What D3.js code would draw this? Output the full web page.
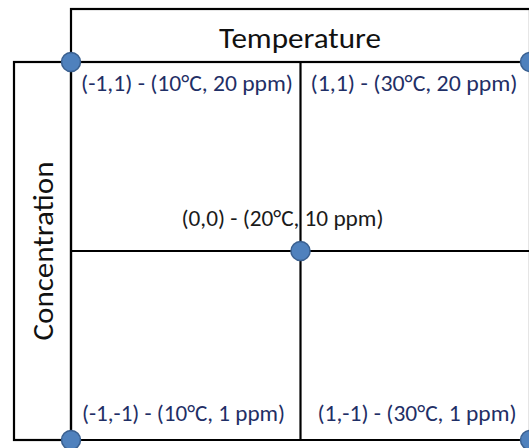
<!DOCTYPE html>
<html>
<head>
<meta charset="utf-8">
<script src="https://cdn.jsdelivr.net/npm/d3@7"></script>
<style>
  html, body { margin: 0; padding: 0; background: #fff; }
  svg { display: block; }
  text { font-family: Calibri, Carlito, Lato, "Open Sans", sans-serif; }
</style>
</head>
<body>
<script>
// ---- data ----
const codedX = [-1, 1, 0, -1, 1];          // temperature (coded)
const codedY = [1, 1, 0, -1, -1];          // concentration (coded)
const temps  = ["10°C", "30°C", "20°C", "10°C", "30°C"];
const concs  = ["20 ppm", "20 ppm", "10 ppm", "1 ppm", "1 ppm"];
const xAxisTitle = "Temperature";
const yAxisTitle = "Concentration";
const gridX = [-1, 0, 1];
const gridY = [-1, 0, 1];

const W = 529, H = 448;
const svg = d3.select("body").append("svg").attr("width", W).attr("height", H);

const x = d3.scaleLinear().domain([-1, 1]).range([71, 530]);
const y = d3.scaleLinear().domain([-1, 1]).range([440, 62]);

const lineW = 2.2;
const headerTop = 9, headerLeft = 14;

const points = codedX.map((cx, i) => ({
  cx, cy: codedY[i],
  label: `(${cx},${codedY[i]}) - (${temps[i]}, ${concs[i]})`
}));

// header boxes
svg.append("rect")
  .attr("x", x(-1)).attr("y", headerTop)
  .attr("width", x(1) - x(-1)).attr("height", y(1) - headerTop)
  .attr("fill", "#fff").attr("stroke", "#000").attr("stroke-width", lineW);
svg.append("rect")
  .attr("x", headerLeft).attr("y", y(1))
  .attr("width", x(-1) - headerLeft).attr("height", y(-1) - y(1))
  .attr("fill", "#fff").attr("stroke", "#000").attr("stroke-width", lineW);

// grid lines
svg.selectAll("line.v").data(gridX).join("line").attr("class", "v")
  .attr("x1", d => x(d)).attr("x2", d => x(d))
  .attr("y1", y(1)).attr("y2", y(-1))
  .attr("stroke", "#000").attr("stroke-width", lineW);
svg.selectAll("line.h").data(gridY).join("line").attr("class", "h")
  .attr("x1", x(-1)).attr("x2", x(1))
  .attr("y1", d => y(d)).attr("y2", d => y(d))
  .attr("stroke", "#000").attr("stroke-width", lineW);

// titles
svg.append("text")
  .attr("x", (x(-1) + x(1)) / 2 - 0.5).attr("y", 48)
  .attr("text-anchor", "middle")
  .attr("font-size", 28).attr("fill", "#111")
  .attr("textLength", 162).attr("lengthAdjust", "spacingAndGlyphs")
  .text(xAxisTitle);
svg.append("text")
  .attr("transform", `translate(${(headerLeft + x(-1)) / 2 + 10},${y(0)}) rotate(-90)`)
  .attr("text-anchor", "middle")
  .attr("font-size", 28).attr("fill", "#111")
  .attr("textLength", 179).attr("lengthAdjust", "spacingAndGlyphs")
  .text(yAxisTitle);

// labels
const labelStyle = {
  "-1,1":  { dx: 10, y: 91,  len: 212, color: "#1F2F66" },
  "1,1":   { dx: 10, y: 91,  len: 207, color: "#1F2F66" },
  "0,0":   { dx: -119, y: 226, len: 202, color: "#1a1a1a" },
  "-1,-1": { dx: 11, y: 421, len: 203, color: "#1F2F66" },
  "1,-1":  { dx: 17, y: 421, len: 199, color: "#1F2F66" }
};
svg.selectAll("text.lbl").data(points).join("text").attr("class", "lbl")
  .attr("x", d => {
    const s = labelStyle[d.cx + "," + d.cy];
    const base = d.cx === 1 ? x(0) : x(d.cx);
    return base + s.dx;
  })
  .attr("y", d => labelStyle[d.cx + "," + d.cy].y)
  .attr("font-size", 22)
  .attr("fill", d => labelStyle[d.cx + "," + d.cy].color)
  .attr("textLength", d => labelStyle[d.cx + "," + d.cy].len)
  .attr("lengthAdjust", "spacingAndGlyphs")
  .text(d => d.label);

// points
svg.selectAll("circle.pt").data(points).join("circle").attr("class", "pt")
  .attr("cx", d => x(d.cx)).attr("cy", d => y(d.cy))
  .attr("r", 9.5)
  .attr("fill", "#4F81BD").attr("stroke", "#3A6090").attr("stroke-width", 1.5);
</script>
</body>
</html>
